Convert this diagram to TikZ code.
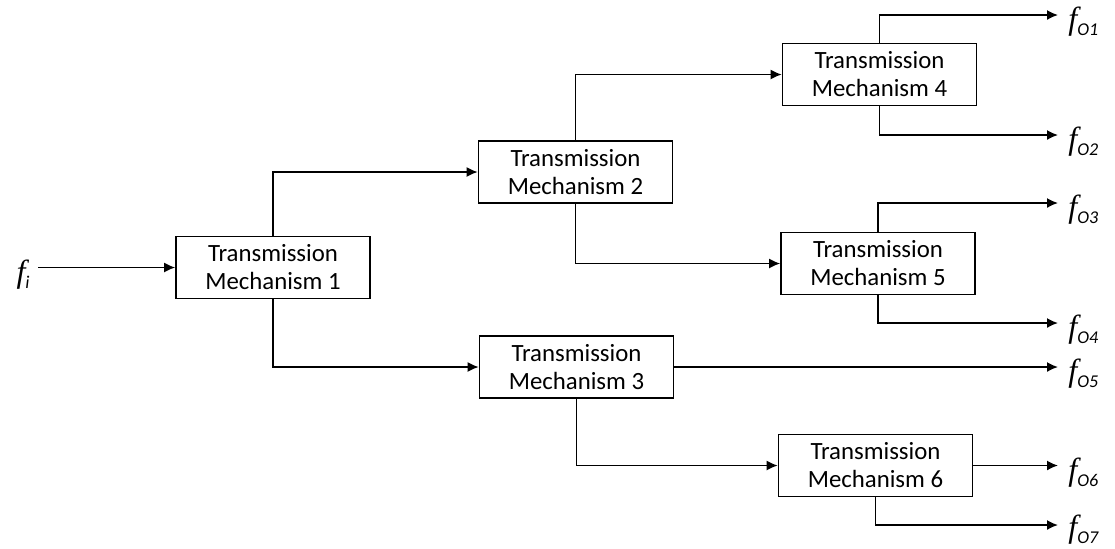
\documentclass[tikz,border=0pt]{standalone}
\usepackage{fontspec}
\setmainfont{Carlito}
\newfontfamily\fletter{Liberation Serif}
\usetikzlibrary{arrows.meta,positioning}

% italic f with a lowered subscript
\newcommand{\fsym}[1]{{\fontsize{16}{16}\selectfont\fletter\itshape f}\raisebox{-3pt}{\fontsize{9}{9}\selectfont\itshape #1}}

\begin{document}
\begin{tikzpicture}[x = 0.5pt, y = -0.5pt,
		mech/.style = {draw, line width = 0.8pt, minimum width = 97pt, minimum height = 31pt,
			align = center, inner sep = 0pt, font = \fontsize{12.4}{14}\selectfont},
		flow/.style = {line width = 0.8pt, -{Latex[length = 5.5pt, width = 5pt]}},
		outlbl/.style = {anchor = west, inner sep = 0pt}]
		
		\useasboundingbox (0, 0) rectangle (1115, 548);
		
		\node[mech] (m1) at (273, 267.5) {Transmission\\Mechanism 1};
		\node[mech] (m2) at (575.5, 172) {Transmission\\Mechanism 2};
		\node[mech] (m3) at (576.5, 367) {Transmission\\Mechanism 3};
		\node[mech] (m4) at (879.5, 74.5) {Transmission\\Mechanism 4};
		\node[mech] (m5) at (878, 263.5) {Transmission\\Mechanism 5};
		\node[mech] (m6) at (875.5, 465.5) {Transmission\\Mechanism 6};
		
		\node[anchor = east, inner sep = 0pt] (fi) at (30, 275) {\fsym{i}};
		
		\coordinate (t1) at (1058, 15);
		\coordinate (t2) at (1058, 135);
		\coordinate (t3) at (1058, 203);
		\coordinate (t4) at (1058, 323);
		\coordinate (t5) at (1058, 367);
		\coordinate (t6) at (1058, 465.5);
		\coordinate (t7) at (1058, 525);
		
		\node[outlbl] (o1) at ([xshift = 5pt, yshift = -3.5pt] t1) {\fsym{O1}};
		\node[outlbl] (o2) at ([xshift = 5pt, yshift = -3.5pt] t2) {\fsym{O2}};
		\node[outlbl] (o3) at ([xshift = 5pt, yshift = -3.5pt] t3) {\fsym{O3}};
		\node[outlbl] (o4) at ([xshift = 5pt, yshift = -3.5pt] t4) {\fsym{O4}};
		\node[outlbl] (o5) at ([xshift = 5pt, yshift = -3.5pt] t5) {\fsym{O5}};
		\node[outlbl] (o6) at ([xshift = 5pt, yshift = -3.5pt] t6) {\fsym{O6}};
		\node[outlbl] (o7) at ([xshift = 5pt, yshift = -2.5pt] t7) {\fsym{O7}};
		
		\draw[flow] ([xshift = 4pt] fi.east |- m1.west) -- (m1.west);
		
		\draw[flow] (m1.north) |- (m2.west);
		\draw[flow] (m1.south) |- (m3.west);
		
		\draw[flow] (m2.north) |- (m4.west);
		\draw[flow] (m2.south) |- (m5.west);
		
		\draw[flow] (m3.east) -- (t5);
		\draw[flow] (m3.south) |- (m6.west);
		
		\draw[flow] (m4.north) |- (t1);
		\draw[flow] (m4.south) |- (t2);
		\draw[flow] (m5.north) |- (t3);
		\draw[flow] (m5.south) |- (t4);
		\draw[flow] (m6.east) -- (t6);
		\draw[flow] (m6.south) |- (t7);
		
	\end{tikzpicture}
\end{document}
